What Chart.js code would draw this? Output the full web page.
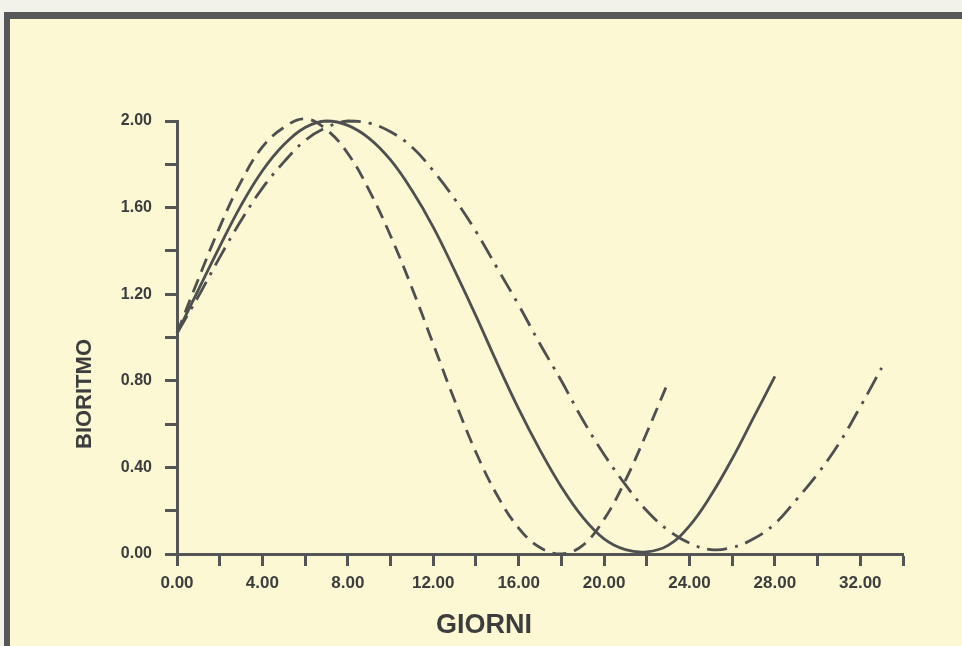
<!DOCTYPE html>
<html>
<head>
<meta charset="utf-8">
<script src="https://cdn.jsdelivr.net/npm/chart.js@4.4.1/dist/chart.umd.min.js"></script>
<style>
    body { margin: 0; width: 962px; height: 646px; background: #f3f2ea; overflow: hidden; position: relative; font-family: "Liberation Sans", Arial, sans-serif; }
    .foglio { position: absolute; left: 4px; top: 12px; width: 958px; height: 634px; background: #fbf8d3; border-left: 6px solid #575757; border-top: 7px solid #575757; box-sizing: border-box; }
    #grafico { position: absolute; left: 0; top: 0; }
    .titolo { position: absolute; font-weight: bold; color: #3d3d3d; line-height: 1; white-space: nowrap; transform: translate(-50%, -50%); }
    .titolo.y { transform: translate(-50%, -50%) rotate(-90deg); }
</style>
</head>
<body>
<div class="foglio"></div>
<canvas id="grafico" width="962" height="646"></canvas>
<div class="titolo y" style="left:84px; top:394px; font-size:22px;">BIORITMO</div>
<div class="titolo" style="left:484px; top:624px; font-size:27px;">GIORNI</div>
<script>
// giorni e valori
const giorniTratteggio = [0, 1, 2, 3, 4, 5, 6, 7, 8, 9, 10, 11, 12, 13, 14, 15, 16, 17, 18, 19, 20, 21, 22, 22.9];
const tratteggio = [1.02, 1.27, 1.51, 1.72, 1.88, 1.97, 2.01, 1.96, 1.85, 1.68, 1.47, 1.23, 0.97, 0.71, 0.47, 0.27, 0.12, 0.03, 0.00, 0.04, 0.16, 0.34, 0.56, 0.77];

const giorniContinua = [0, 1, 2, 3, 4, 5, 6, 7, 8, 9, 10, 11, 12, 13, 14, 15, 16, 17, 18, 19, 20, 21, 22, 23, 24, 25, 26, 27, 28];
const continua = [1.02, 1.22, 1.42, 1.61, 1.77, 1.89, 1.97, 2.00, 1.98, 1.92, 1.82, 1.68, 1.51, 1.31, 1.10, 0.88, 0.67, 0.48, 0.31, 0.17, 0.07, 0.02, 0.01, 0.04, 0.13, 0.27, 0.44, 0.63, 0.82];

const giorniPuntoLinea = [0, 1, 2, 3, 4, 5, 6, 7, 8, 9, 10, 11, 12, 13, 14, 15, 16, 17, 18, 19, 20, 21, 22, 23, 24, 25, 26, 27, 28, 29, 30, 31, 32, 33];
const puntoLinea = [1.02, 1.19, 1.37, 1.54, 1.69, 1.81, 1.91, 1.97, 2.00, 1.99, 1.95, 1.88, 1.77, 1.64, 1.49, 1.32, 1.15, 0.97, 0.80, 0.62, 0.46, 0.32, 0.20, 0.11, 0.05, 0.02, 0.03, 0.07, 0.14, 0.25, 0.37, 0.51, 0.68, 0.86];

const coloreLinea = '#4f4f4f';
const coloreAssi = '#555555';
const fontTick = '"Liberation Sans", Arial, sans-serif';

function punti(giorni, valori) {
    return giorni.map((g, i) => ({x: g, y: valori[i]}));
}

function serie(giorni, valori, dash) {
    return {
        data: punti(giorni, valori),
        borderColor: coloreLinea,
        borderWidth: 2.8,
        borderDash: dash,
        pointRadius: 0,
        tension: 0.4,
        clip: false,
        fill: false
    };
}

new Chart(document.getElementById('grafico'), {
    type: 'line',
    data: {
        datasets: [
            serie(giorniTratteggio, tratteggio, [14, 8]),
            serie(giorniContinua, continua, []),
            serie(giorniPuntoLinea, puntoLinea, [20, 8, 3, 8])
        ]
    },
    options: {
        responsive: false,
        animation: false,
        devicePixelRatio: 1,
        layout: {padding: {left: 0, top: 121, right: 59, bottom: 0}},
        plugins: {legend: {display: false}, tooltip: {enabled: false}},
        scales: {
            x: {
                type: 'linear',
                min: 0,
                max: 34,
                afterFit: scale => { scale.height = 92; },
                border: {color: coloreAssi, width: 3},
                grid: {drawOnChartArea: false, drawTicks: true, tickLength: 12, tickColor: coloreAssi, tickWidth: 3},
                ticks: {
                    stepSize: 2,
                    padding: 7,
                    color: '#3d3d3d',
                    font: {family: fontTick, size: 17, weight: 'bold'},
                    maxRotation: 0,
                    autoSkip: false,
                    callback: v => (Math.round(v) % 4 === 0 ? v.toFixed(2) : '')
                }
            },
            y: {
                min: 0,
                max: 2,
                afterFit: scale => { scale.width = 177; },
                border: {color: coloreAssi, width: 3},
                grid: {drawOnChartArea: false, drawTicks: true, tickLength: 12, tickColor: coloreAssi, tickWidth: 3},
                ticks: {
                    stepSize: 0.2,
                    padding: 13,
                    color: '#3d3d3d',
                    font: {family: fontTick, size: 16, weight: 'bold'},
                    autoSkip: false,
                    callback: v => {
                        const k = v / 0.4;
                        return Math.abs(k - Math.round(k)) < 1e-6 ? v.toFixed(2) : '';
                    }
                }
            }
        }
    }
});
</script>
</body>
</html>
